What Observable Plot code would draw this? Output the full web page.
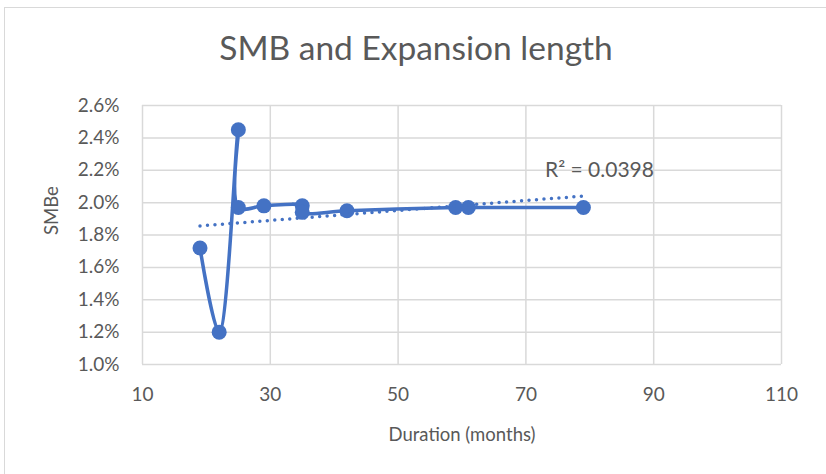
<!DOCTYPE html>
<html>
<head>
<meta charset="utf-8">
<script src="https://cdn.jsdelivr.net/npm/d3@7"></script>
<script src="https://cdn.jsdelivr.net/npm/@observablehq/plot@0.6"></script>
<style>
  html, body { margin: 0; padding: 0; background: #fff; }
  body { width: 826px; height: 474px; overflow: hidden; position: relative; font-family: Lato, "Open Sans", sans-serif; }
  #frame { position: absolute; left: 4px; top: 7px; width: 900px; height: 600px; border-top: 1.5px solid #d9d9d9; border-left: 1.5px solid #d9d9d9; box-sizing: border-box; }
  #title { position: absolute; left: 0; width: 832px; top: 27px; text-align: center; font-size: 33.5px; color: #595959; }
  #chart { position: absolute; left: 0; top: 0; }
  #r2 { position: absolute; left: 545px; top: 156px; font-size: 21px; color: #595959; }
</style>
</head>
<body>
<div id="frame"></div>
<div id="chart"></div>
<div id="title">SMB and Expansion length</div>
<div id="r2">R² = 0.0398</div>
<script>
const duration = [19, 22, 25, 25, 29, 35, 35, 42, 59, 61, 79];
const smbe = [0.0172, 0.0120, 0.0245, 0.0197, 0.0198, 0.0198, 0.0194, 0.0195, 0.0197, 0.0197, 0.0197];
const xTicks = [10, 30, 50, 70, 90, 110];
const yTicks = [0.010, 0.012, 0.014, 0.016, 0.018, 0.020, 0.022, 0.024, 0.026];
const titleText = "SMB and Expansion length";
const xLabel = "Duration (months)";
const yLabel = "SMBe";

const data = duration.map((d, i) => ({x: d, y: smbe[i]}));
const blue = "#4472C4";
const grid = "#d9d9d9";
const textColor = "#595959";

const chart = Plot.plot({
  width: 826,
  height: 474,
  marginLeft: 142,
  marginRight: 45,
  marginTop: 105,
  marginBottom: 110,
  style: { fontFamily: "Lato, 'Open Sans', sans-serif", fontSize: "19px", color: textColor, background: "transparent" },
  x: { domain: [10, 110], ticks: xTicks },
  y: { domain: [0.010, 0.026], ticks: yTicks },
  marks: [
    Plot.gridX(xTicks, { stroke: grid, strokeOpacity: 1, strokeWidth: 1.5 }),
    Plot.gridY(yTicks, { stroke: grid, strokeOpacity: 1, strokeWidth: 1.5 }),
    Plot.axisX(xTicks, { tickSize: 0, tickPadding: 23, fill: textColor, fontSize: 19, label: null }),
    Plot.axisY(yTicks, { tickSize: 0, tickPadding: 23, fill: textColor, fontSize: 19, label: null, tickFormat: d3.format(".1%") }),
    Plot.text([xLabel], { frameAnchor: "bottom", dy: 76, fill: textColor, fontSize: 18.5 }),
    Plot.text([yLabel], { frameAnchor: "left", dx: -90, rotate: -90, fill: textColor, fontSize: 18.5 }),
    Plot.line(data, { x: "x", y: "y", stroke: blue, strokeWidth: 3.5, curve: "catmull-rom" }),
    Plot.dot(data, { x: "x", y: "y", r: 7.5, fill: blue, stroke: "none" }),
    Plot.linearRegressionY(data, { x: "x", y: "y", ci: 0, stroke: blue, strokeWidth: 3.5, strokeDasharray: "0,7.5", strokeLinecap: "round" })
  ]
});
document.getElementById("chart").appendChild(chart);
</script>
</body>
</html>
